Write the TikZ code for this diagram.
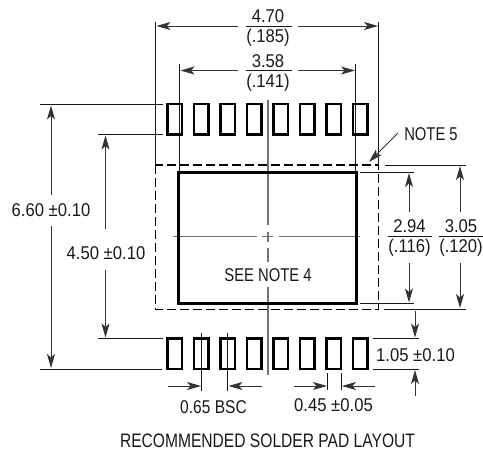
\documentclass[tikz,border=0pt]{standalone}
\usepackage{fontspec}
\setmainfont[FakeStretch=0.80]{Liberation Sans}
\newfontfamily\numfont[FakeStretch=0.90]{Liberation Sans}
\newfontfamily\midfont[FakeStretch=0.84]{Liberation Sans}
\usetikzlibrary{arrows.meta}
\tikzset{
  x=1pt,y=-1pt,
  ext/.style={line width=1pt,black!90},
  cen/.style={line width=1.2pt,black!55},
  dim/.style={line width=1pt,black!80,-{Stealth[length=14pt,width=8pt,inset=3.5pt]}},
  lbl/.style={inner sep=0pt,font=\fontsize{18.5}{20}\selectfont,text=black!90},
  num/.style={inner sep=0pt,font=\fontsize{18.5}{20}\selectfont\numfont,text=black!90},
  pad/.style={draw=black,line width=2.5pt,fill=none},
}
\begin{document}
\begin{tikzpicture}
\useasboundingbox (0,0) rectangle (483,453);
% centre lines
\draw[cen] (268,100) -- (268,225) (268,232) -- (268,242) (268,248) -- (268,262) (268,287) -- (268,375);
\draw[cen] (173.3,236.7) -- (257,236.7) (262,236.7) -- (273,236.7) (279,236.7) -- (360,236.7);
% extension lines
\draw[ext] (155.5,22) -- (155.5,165) (378.7,22) -- (378.7,165);
\draw[ext] (179.5,64) -- (179.5,171) (355.7,64) -- (355.7,171);
\draw[ext] (40,104.5) -- (163,104.5) (40,369) -- (162,369);
\draw[ext] (98,134.7) -- (163,134.7) (98,338.5) -- (163,338.5);
\draw[ext] (360,172) -- (413.5,172) (360,303.5) -- (413.5,303.5);
\draw[ext] (385,165) -- (466,165) (384,309) -- (466,309);
\draw[ext] (373,338.5) -- (419,338.5) (373,369) -- (419,369);
\draw[ext] (201.7,333) -- (201.7,391) (227.7,333) -- (227.7,391);
\draw[ext] (327.7,373) -- (327.7,390) (341.3,373) -- (341.3,390);
% pads
\foreach \x in {167.7,194.2,220.7,247,273.5,300,326.5,353}{
  \draw[pad] (\x,104) rectangle ++(14.5,30.5);
  \draw[pad] (\x,338.5) rectangle ++(14.5,30.5);
}
% body
\draw[line width=1.1pt,dash pattern=on 9pt off 4pt] (155.5,165) rectangle (378.7,309.3);
\draw[line width=3pt] (178,172) rectangle (356,303.5);
% dimension arrows
\draw[dim] (298,26) -- (378,26);
\draw[dim] (238,26) -- (156.5,26);
\draw[dim] (298,70.5) -- (355,70.5);
\draw[dim] (238,70.5) -- (180.5,70.5);
\draw[dim] (51,195) -- (51,105.5);
\draw[dim] (51,226) -- (51,368);
\draw[dim] (105.5,229) -- (105.5,135.5);
\draw[dim] (105.5,270) -- (105.5,337.5);
\draw[dim] (409,212) -- (409,173);
\draw[dim] (409,263) -- (409,302.5);
\draw[dim] (460,212) -- (460,166);
\draw[dim] (460,263) -- (460,308);
\draw[dim] (415,311) -- (415,337.5);
\draw[dim] (415,396) -- (415,370);
\draw[dim] (168,386) -- (201,386);
\draw[dim] (262,386) -- (228.5,386);
\draw[dim] (294,386) -- (327,386);
\draw[dim] (375,386) -- (342,386);
\draw[dim] (398,133) -- (369,162);
% fraction labels
\node[num] (a) at (268,16) {4.70};
\node[num] (b) at (268,38) {(.185)};
\draw[ext] (246,26) -- (292,26);
\node[num] (c) at (268,61) {3.58};
\node[num] (d) at (268,83) {(.141)};
\draw[ext] (246,70.5) -- (292,70.5);
\node[num] (e) at (409.5,225.7) {2.94};
\node[num] (f) at (409.5,247.7) {(.116)};
\draw[ext] (388,236) -- (431.7,236);
\node[num] (g) at (461,225.7) {3.05};
\node[num] (h) at (461,247.7) {(.120)};
\draw[ext] (439,236) -- (482.7,236);
% plain labels
\node[lbl] (n5) at (431,134) {NOTE 5};
\node[num] (m1) at (51,210) {6.60 ±0.10};
\node[num] (m2) at (106,253) {4.50 ±0.10};
\node[num] (m3) at (415.5,355) {1.05 ±0.10};
\node[lbl] (m4) at (268,275) {SEE NOTE 4};
\node[lbl,font=\fontsize{18.5}{20}\selectfont\midfont] (m5) at (213.5,407) {0.65 BSC};
\node[num] (m6) at (333.5,405) {0.45 ±0.05};
\node[lbl,font=\fontsize{19.5}{20}\selectfont] (m7) at (267.5,441) {RECOMMENDED SOLDER PAD LAYOUT};
\end{tikzpicture}
\end{document}
